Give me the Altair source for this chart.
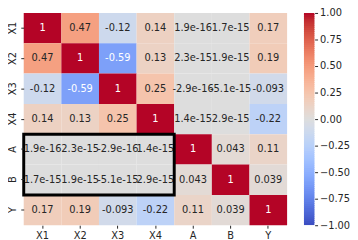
import altair as alt
import pandas as pd

names = ["X1", "X2", "X3", "X4", "A", "B", "Y"]
matrix = [
    [1, 0.47, -0.12, 0.14, 1.9e-16, 1.7e-15, 0.17],
    [0.47, 1, -0.59, 0.13, 2.3e-15, 1.9e-15, 0.19],
    [-0.12, -0.59, 1, 0.25, -2.9e-16, -5.1e-15, -0.093],
    [0.14, 0.13, 0.25, 1, 1.4e-15, 2.9e-15, -0.22],
    [1.9e-16, 2.3e-15, -2.9e-16, 1.4e-15, 1, 0.043, 0.11],
    [1.7e-15, 1.9e-15, -5.1e-15, 2.9e-15, 0.043, 1, 0.039],
    [0.17, 0.19, -0.093, -0.22, 0.11, 0.039, 1],
]
cbar_ticks = [1.0, 0.75, 0.5, 0.25, 0.0, -0.25, -0.5, -0.75, -1.0]
box = {"x1": "X1", "x2": "X4", "y1": "A", "y2": "B"}

# coolwarm colormap stops
cw = [(59,76,192),(68,90,204),(77,104,215),(87,117,225),(98,130,234),(108,142,241),
      (119,154,247),(130,165,251),(141,176,254),(152,185,255),(163,194,255),(174,201,253),
      (184,208,249),(194,213,244),(204,217,238),(213,219,230),(221,221,221),(229,216,209),
      (236,211,197),(241,204,184),(245,196,172),(247,187,160),(247,177,148),(247,166,135),
      (244,154,123),(241,141,111),(236,127,99),(229,112,88),(222,96,77),(213,80,66),
      (203,62,56),(192,40,47),(180,4,38)]
cw_hex = ["#%02x%02x%02x" % c for c in cw]
cw_dom = [-1 + 2 * i / (len(cw) - 1) for i in range(len(cw))]
color_scale = alt.Scale(domain=cw_dom, range=cw_hex, interpolate="rgb", clamp=True)

rows = []
for i, rn in enumerate(names):
    for j, cn in enumerate(names):
        v = matrix[i][j]
        rows.append({"row": rn, "col": cn, "v": v, "lbl": "{:.2g}".format(v)})
df = pd.DataFrame(rows)

FONT = "DejaVu Sans"
W, H = 268, 216

xscale = alt.Scale(domain=names, paddingInner=0, paddingOuter=0)
yscale = alt.Scale(domain=names, paddingInner=0, paddingOuter=0)

xenc = alt.X("col:N", scale=xscale, title=None,
             axis=alt.Axis(labelAngle=0, domain=False, tickSize=3, labelPadding=2,
                           labelFontSize=10, labelColor="#262626", tickColor="#262626"))
yenc = alt.Y("row:N", scale=yscale, title=None,
             axis=alt.Axis(labelAngle=-90, labelAlign="center", labelBaseline="bottom",
                           domain=False, tickSize=3, labelPadding=3, labelFontSize=10,
                           labelColor="#262626", tickColor="#262626",
                           minExtent=16, maxExtent=16))

base = alt.Chart(df)
cells = base.mark_rect().encode(
    x=xenc, y=yenc,
    color=alt.Color("v:Q", scale=color_scale, legend=None),
)
texts = base.mark_text(font=FONT, fontSize=10).encode(
    x=alt.X("col:N", scale=xscale),
    y=alt.Y("row:N", scale=yscale),
    text="lbl:N",
    color=alt.condition("abs(datum.v) > 0.5", alt.value("white"), alt.value("#262626")),
)
outline = alt.Chart(pd.DataFrame([box])).mark_rect(
    fill=None, stroke="black", strokeWidth=3
).encode(
    x=alt.X("x1:N", scale=xscale, bandPosition=0),
    x2=alt.X2("x2:N", bandPosition=1),
    y=alt.Y("y1:N", scale=yscale, bandPosition=0),
    y2=alt.Y2("y2:N", bandPosition=1),
)
heat = alt.layer(cells, texts, outline).properties(width=W, height=H)

cbar = alt.Chart(alt.sequence(-1, 1, 0.02, as_="c")).transform_calculate(
    c2="datum.c + 0.03", cm="datum.c + 0.01"
).mark_rect(clip=True).encode(
    y=alt.Y("c:Q", scale=alt.Scale(domain=[-1, 1], nice=False, zero=False), title=None,
            axis=alt.Axis(orient="right", values=cbar_ticks, format=".2f", domain=False,
                          tickSize=3, labelPadding=2, labelFontSize=10, grid=False,
                          labelColor="#262626", tickColor="#262626")),
    y2="c2:Q",
    color=alt.Color("cm:Q", scale=color_scale, legend=None),
).properties(width=11, height=H)

chart = alt.hconcat(heat, cbar, spacing=17).configure(
    font=FONT, padding={"top": -2, "left": 0, "right": 0, "bottom": 0}
).configure_view(stroke=None).configure_axis(labelFont=FONT)

chart.save("out.html", embed_options={"renderer": "svg", "actions": False})
